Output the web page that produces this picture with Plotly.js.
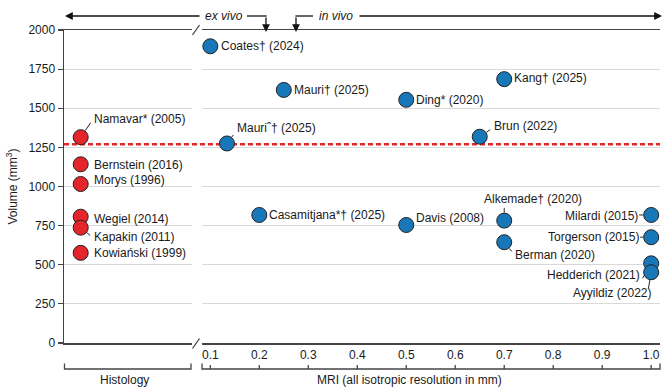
<!DOCTYPE html>
<html>
<head>
<meta charset="utf-8">
<script src="https://cdn.plot.ly/plotly-3.0.1.min.js"></script>
<style>html,body{margin:0;padding:0;background:#fff;}#chart{width:666px;height:389px;}</style>
</head>
<body>
<div id="chart"></div>
<script>
// ---- data ----
const histNames = ['Namavar* (2005)', 'Bernstein (2016)', 'Morys (1996)', 'Wegiel (2014)', 'Kapakin (2011)', 'Kowiański (1999)'];
const histVolume = [1315, 1142, 1016, 807, 737, 576];
const histCategory = 'Histology';

const mriNames = ['Coates† (2024)', 'Mauri† (2025)', 'Ding* (2020)', 'Kang† (2025)', 'Brun (2022)', 'Mauriˆ† (2025)',
  'Casamitjana*† (2025)', 'Davis (2008)', 'Alkemade† (2020)', 'Milardi (2015)', 'Torgerson (2015)', 'Berman (2020)',
  'Hedderich (2021)', 'Ayyildiz (2022)'];
const mriResolution = [0.1, 0.25, 0.5, 0.7, 0.65, 0.134, 0.2, 0.5, 0.7, 1.0, 1.0, 0.7, 1.0, 1.0];
const mriVolume = [1896, 1617, 1554, 1686, 1318, 1275, 818, 754, 782, 818, 676, 644, 509, 452];

const referenceVolume = 1270;
const mriTicks = [0.1, 0.2, 0.3, 0.4, 0.5, 0.6, 0.7, 0.8, 0.9, 1.0];
const yTicks = [0, 250, 500, 750, 1000, 1250, 1500, 1750, 2000];

// ---- label placement (layout only) ----
const histPlacement = [
  {dx: 11, dy: 18, anchor: 'left', leader: [11, -16]},
  {dx: 11, dy: -1, anchor: 'left'},
  {dx: 11, dy: 4, anchor: 'left'},
  {dx: 11, dy: -2, anchor: 'left'},
  {dx: 11, dy: -9, anchor: 'left', leader: [11, 9]},
  {dx: 11, dy: 0, anchor: 'left'}
];
const mriPlacement = [
  {dx: 9, dy: 0, anchor: 'left'},
  {dx: 8, dy: 0, anchor: 'left'},
  {dx: 8, dy: 0, anchor: 'left'},
  {dx: 8, dy: 1, anchor: 'left'},
  {dx: 12, dy: 11, anchor: 'left', leader: [12, -8]},
  {dx: 8, dy: 15.5, anchor: 'left', leader: [7.5, -10]},
  {dx: 8, dy: 0, anchor: 'left'},
  {dx: 8, dy: 7.5, anchor: 'left'},
  {dx: 28.5, dy: 21.5, anchor: 'center', leader: [0, -14]},
  {dx: -11, dy: -1, anchor: 'right', leader: [-13.5, 0]},
  {dx: -10, dy: 0, anchor: 'right', leader: [-12.5, 0]},
  {dx: 8.5, dy: -12.5, anchor: 'left', leader: [8.7, 10.7]},
  {dx: -9, dy: -11.5, anchor: 'right', leader: [-9.5, 16.5], standoff: 14},
  {dx: 2, dy: -21, anchor: 'right', leader: [-3, 17.7]}
];

const FONT = 'Liberation Sans, Arial, Helvetica, sans-serif';
const TXT = '#1a1a1a';
const AXC = '#444444';
const BLUE = '#1877b9';
const RED = '#e4262b';

// pixel helpers for decorations (plot area: left 64, width 596, top 30, height 313)
const PL = 64, PW = 596, PB = 343, PH = 313;
const px = p => (p - PL) / PW;
const py = p => (PB - p) / PH;

const traces = [
  {
    type: 'scatter', mode: 'markers', xaxis: 'x', yaxis: 'y',
    x: histVolume.map(() => histCategory), y: histVolume, text: histNames,
    marker: {size: 15, color: RED, line: {color: '#222', width: 1}},
    cliponaxis: false, hoverinfo: 'text'
  },
  {
    type: 'scatter', mode: 'markers', xaxis: 'x2', yaxis: 'y',
    x: mriResolution, y: mriVolume, text: mriNames,
    marker: {size: 15, color: BLUE, line: {color: '#222', width: 1}},
    cliponaxis: false, hoverinfo: 'text'
  }
];

const annotations = [];
const lblFont = {family: FONT, size: 12, color: TXT};
function addLabels(names, xs, ys, xref, placement) {
  names.forEach((n, i) => {
    const p = placement[i];
    annotations.push({
      xref: xref, yref: 'y', x: xs[i], y: ys[i], text: n, showarrow: false,
      xanchor: p.anchor, yanchor: 'middle', xshift: p.dx, yshift: p.dy, font: lblFont
    });
    if (p.leader) {
      annotations.push({
        xref: xref, yref: 'y', x: xs[i], y: ys[i], text: '', showarrow: true,
        arrowhead: 0, arrowwidth: 1, arrowcolor: '#222',
        ax: p.leader[0], ay: p.leader[1], standoff: p.standoff || 8
      });
    }
  });
}
addLabels(histNames, histVolume.map(() => histCategory), histVolume, 'x', histPlacement);
addLabels(mriNames, mriResolution, mriVolume, 'x2', mriPlacement);

// top ex vivo / in vivo arrows
const arrowBase = {xref: 'paper', yref: 'paper', text: '', showarrow: true, arrowhead: 2,
  arrowsize: 1.2, arrowwidth: 1.3, arrowcolor: '#111'};
annotations.push(Object.assign({}, arrowBase, {x: px(65), y: py(16), ax: 201 - 65, ay: 0}));
annotations.push(Object.assign({}, arrowBase, {x: px(266), y: py(32), ax: 0, ay: -16}));
annotations.push(Object.assign({}, arrowBase, {x: px(296), y: py(32), ax: 0, ay: -16}));
annotations.push(Object.assign({}, arrowBase, {x: px(662), y: py(16), ax: 358 - 662, ay: 0}));
annotations.push({xref: 'paper', yref: 'paper', x: px(224), y: py(16), text: '<i>ex vivo</i>',
  showarrow: false, xanchor: 'center', yanchor: 'middle', font: lblFont});
annotations.push({xref: 'paper', yref: 'paper', x: px(336), y: py(16), text: '<i>in vivo</i>',
  showarrow: false, xanchor: 'center', yanchor: 'middle', font: lblFont});

// group titles under the axes
annotations.push({xref: 'paper', yref: 'paper', x: px(124), y: py(380), text: 'Histology',
  showarrow: false, xanchor: 'center', yanchor: 'middle', font: lblFont});
annotations.push({xref: 'paper', yref: 'paper', x: px(409), y: py(380), text: 'MRI (all isotropic resolution in mm)',
  showarrow: false, xanchor: 'center', yanchor: 'middle', font: lblFont});

const lineStyle = {color: '#111', width: 1.3};
const axStyle = {color: AXC, width: 1.3};
const shapes = [
  // reference volume
  {type: 'line', xref: 'paper', yref: 'y', x0: 0, x1: 1, y0: referenceVolume, y1: referenceVolume,
   line: {color: RED, width: 2.5, dash: '5px,3px'}, layer: 'below'},
  // arrow connectors
  {type: 'line', xref: 'paper', yref: 'paper', x0: px(247), x1: px(266.6), y0: py(16), y1: py(16), line: lineStyle},
  {type: 'line', xref: 'paper', yref: 'paper', x0: px(295.4), x1: px(313), y0: py(16), y1: py(16), line: lineStyle},
  // axis break marks
  {type: 'line', xref: 'paper', yref: 'paper', x0: px(192.5), x1: px(199.5), y0: py(35), y1: py(25), line: axStyle},
  {type: 'line', xref: 'paper', yref: 'paper', x0: px(192.5), x1: px(199.5), y0: py(348.5), y1: py(338.5), line: axStyle},
  // brackets
  {type: 'path', xref: 'paper', yref: 'paper',
   path: `M ${px(64.5)} ${py(363.5)} L ${px(64.5)} ${py(369)} L ${px(191)} ${py(369)} L ${px(191)} ${py(363.5)}`,
   line: axStyle},
  {type: 'path', xref: 'paper', yref: 'paper',
   path: `M ${px(202)} ${py(363.5)} L ${px(202)} ${py(369)} L ${px(660)} ${py(369)} L ${px(660)} ${py(363.5)}`,
   line: axStyle}
];
mriTicks.forEach(v => shapes.push({type: 'line', xref: 'x2', yref: 'paper', x0: v, x1: v,
  y0: py(369), y1: py(365), line: axStyle}));

const layout = {
  width: 666, height: 389,
  margin: {l: 64, r: 6, t: 30, b: 46},
  paper_bgcolor: '#fff', plot_bgcolor: 'rgba(0,0,0,0)',
  font: {family: FONT, size: 12, color: TXT},
  showlegend: false, hovermode: false,
  xaxis: {
    domain: [0, px(191.5)], type: 'category', range: [-0.131, 0.869],
    showline: true, mirror: true, linecolor: AXC, linewidth: 1.5,
    showgrid: false, zeroline: false, showticklabels: false, ticks: '', anchor: 'y'
  },
  xaxis2: {
    domain: [px(201.5), 1], range: [0.082, 1.018],
    tickvals: mriTicks, ticktext: mriTicks.map(v => v.toFixed(1)),
    showline: true, mirror: true, linecolor: AXC, linewidth: 1.5,
    showgrid: false, zeroline: false, ticks: '', anchor: 'y',
    tickfont: {family: FONT, size: 12, color: TXT}
  },
  yaxis: {
    range: [0, 2000], tickvals: yTicks, ticktext: yTicks.map(String),
    showline: true, linecolor: AXC, linewidth: 1.5,
    ticks: 'outside', ticklen: 5, tickwidth: 1.2, tickcolor: AXC,
    showgrid: true, gridcolor: '#d9d9d9', gridwidth: 1.2, zeroline: false,
    tickfont: {family: FONT, size: 12, color: TXT},
    title: {text: 'Volume (mm<sup>3</sup>)', font: {family: FONT, size: 12, color: TXT}, standoff: 8}
  },
  shapes: shapes,
  annotations: annotations
};

Plotly.newPlot('chart', traces, layout, {displayModeBar: false, staticPlot: true});
</script>
</body>
</html>
